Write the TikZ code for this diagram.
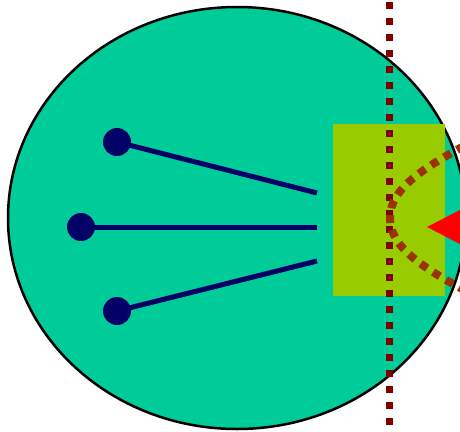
\documentclass[tikz,border=0pt]{standalone}
\usetikzlibrary{positioning}

\definecolor{cellgreen}{HTML}{00CC99}
\definecolor{padgreen}{HTML}{99CC00}
\definecolor{stemblue}{HTML}{000066}
\definecolor{wallred}{HTML}{800000}
\definecolor{ringbrown}{HTML}{993300}

\begin{document}
\begin{tikzpicture}[x=1pt, y=-1pt,
    knob/.style={circle, fill=stemblue, inner sep=0pt, minimum size=28pt},
    stem/.style={stemblue, line width=5pt},
    wall/.style={wallred, line width=7pt, dash pattern=on 7pt off 9pt, dash phase=14pt},
    ring/.style={ringbrown, line width=8pt, dash pattern=on 8pt off 7pt}]

  \useasboundingbox (0,0) rectangle (460,431);
  \clip (0,0) rectangle (460,431);

  % Define body
  \draw[fill=cellgreen, line width=2.5pt] (237,218) ellipse [x radius=229pt, y radius=211pt];
  \fill[padgreen] (333,124) rectangle (445,296);

  % Define nodes
  \node[knob] (ka) at (117,142) {};
  \node[knob] (kb) at (81,227) {};
  \node[knob] (kc) at (117,311) {};
  \coordinate (ea) at (317,193);
  \coordinate (eb) at (317,227);
  \coordinate (ec) at (317,261);

  % Connect the nodes
  \draw[stem] (ka.center) -- (ea);
  \draw[stem] (kb.center) -- (eb);
  \draw[stem] (kc.center) -- (ec);

  % Wall and ring
  \coordinate (wtop) at (389,0);
  \coordinate (wbot) at (389,431);
  \draw[wall] (wtop) -- (wbot);
  \coordinate (rtop) at (464,146);
  \coordinate (rmid) at (390,218);
  \coordinate (rbot) at (464,290);
  \draw[ring] (rtop) .. controls (420,170) and (390,190) .. (rmid)
                     .. controls (390,246) and (420,266) .. (rbot);

  % Pointer
  \fill[red] (427,227) -- (490,194.5) -- (490,259.5) -- cycle;

\end{tikzpicture}
\end{document}
